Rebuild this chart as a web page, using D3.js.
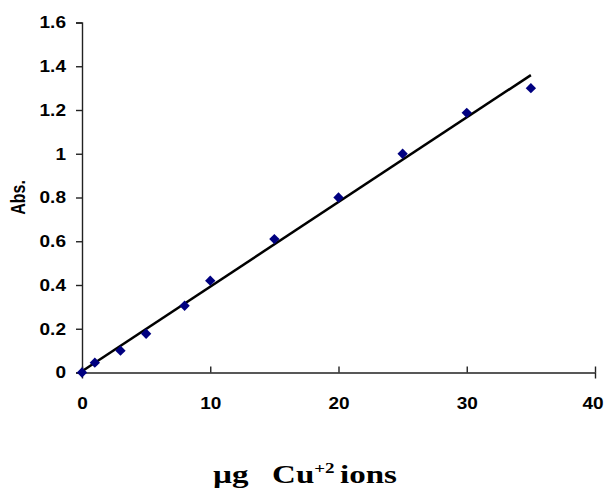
<!DOCTYPE html>
<html>
<head>
<meta charset="utf-8">
<script src="https://cdn.jsdelivr.net/npm/d3@7"></script>
<style>
  body { margin: 0; background: #fff; }
  svg { display: block; }
</style>
</head>
<body>
<svg id="chart" width="604" height="492"></svg>
<script>
// copper calibration: absorbance vs. amount of Cu(II)
const cuAmount = [0, 1, 3, 5, 8, 10, 15, 20, 25, 30, 35];
const absorbance = [0, 0.045, 0.10, 0.177, 0.305, 0.42, 0.61, 0.80, 1.0, 1.187, 1.30];
const xTicks = [0, 10, 20, 30, 40];
const yTicks = [0, 0.2, 0.4, 0.6, 0.8, 1, 1.2, 1.4, 1.6];

const svg = d3.select('#chart');
const plotL = 82, plotR = 595, plotT = 22.5, plotB = 372.5;
const sans = 'Liberation Sans, Arial, sans-serif';
const stretch = 1.12; // text is drawn a bit wide

const x = d3.scaleLinear().domain([0, 40]).range([plotL, plotR]);
const y = d3.scaleLinear().domain([0, 1.6]).range([plotB, plotT]);

// least squares fit for the trend line
const mx = d3.mean(cuAmount), my = d3.mean(absorbance);
let sxy = 0, sxx = 0;
cuAmount.forEach((v, i) => {
    sxy += (v - mx) * (absorbance[i] - my);
    sxx += (v - mx) * (v - mx);
});
const slope = sxy / sxx;
const intercept = my - slope * mx;
const xMin = d3.min(cuAmount), xMax = d3.max(cuAmount);

const xAxis = svg.append('g')
    .attr('transform', `translate(0,${plotB})`)
    .call(d3.axisBottom(x).tickValues(xTicks).tickFormat(d3.format('d')).tickSizeOuter(0).tickSize(6).tickPadding(18));

const yAxis = svg.append('g')
    .attr('transform', `translate(${plotL},0)`)
    .call(d3.axisLeft(y).tickValues(yTicks).tickFormat(d => String(+d.toFixed(1))).tickSizeOuter(0).tickSize(6).tickPadding(10));

[xAxis, yAxis].forEach(a => {
    a.select('.domain').attr('stroke', '#222').attr('stroke-width', 1.4);
    a.selectAll('.tick line').attr('stroke', '#222').attr('stroke-width', 1.4);
    a.selectAll('.tick text')
        .attr('fill', '#000')
        .style('font-family', sans)
        .style('font-weight', 'bold')
        .style('font-size', '17px');
});
// x tick marks point upward into the plot
xAxis.selectAll('.tick line').attr('y2', -6);
// last label sits against the right edge, pull it in a touch
xAxis.selectAll('.tick text')
    .attr('transform', (d, i, nodes) => `translate(${i === nodes.length - 1 ? -2.5 : 0},0) scale(${stretch},1)`);
yAxis.selectAll('.tick text')
    .attr('x', 0)
    .attr('transform', `translate(-16,0) scale(${stretch},1)`);

svg.append('line')
    .attr('x1', x(xMin)).attr('y1', y(intercept + slope * xMin))
    .attr('x2', x(xMax)).attr('y2', y(intercept + slope * xMax))
    .attr('stroke', '#000')
    .attr('stroke-width', 2.5);

svg.append('g').selectAll('path')
    .data(cuAmount.map((v, i) => [v, absorbance[i]]))
    .join('path')
    .attr('d', d3.symbol(d3.symbolDiamond2, 68))
    .attr('transform', d => `translate(${x(d[0])},${y(d[1])})`)
    .attr('fill', '#000080');

svg.append('text')
    .attr('transform', `translate(25,${(plotT + plotB) / 2}) scale(1.25,1) rotate(-90)`)
    .attr('text-anchor', 'middle')
    .style('font-family', sans)
    .style('font-weight', 'bold')
    .style('font-size', '16px')
    .text('Abs.');

const title = svg.append('g')
    .attr('transform', 'translate(213,483) scale(1.27,1)')
    .append('text')
    .style('font-family', 'Liberation Serif, Times New Roman, serif')
    .style('font-weight', 'bold')
    .style('font-size', '26px');
title.append('tspan').attr('x', 0).text('µg');
title.append('tspan').attr('x', 46.5).text('Cu');
title.append('tspan').attr('dy', -10).style('font-size', '15px').text('+2');
title.append('tspan').attr('x', 100).attr('dy', 10).text('ions');
</script>
</body>
</html>
